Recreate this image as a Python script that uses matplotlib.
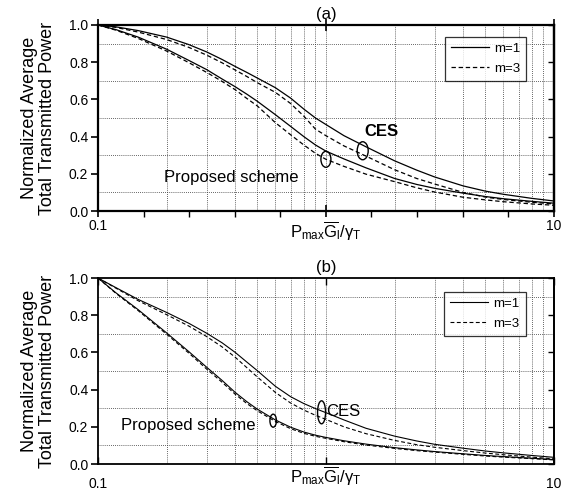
import numpy as np
import matplotlib
matplotlib.use("Agg")
import matplotlib.pyplot as plt
from matplotlib.patches import Ellipse
from matplotlib.transforms import ScaledTranslation

plt.rcParams['font.family'] = ['Liberation Sans', 'DejaVu Sans']
plt.rcParams['mathtext.fontset'] = 'custom'
plt.rcParams['mathtext.rm'] = 'Liberation Sans'
plt.rcParams['mathtext.it'] = 'Liberation Sans'

# x values (log axis) shared by all curves
x = [0.1, 0.12, 0.15, 0.2, 0.25, 0.3, 0.35, 0.4, 0.45, 0.5, 0.6, 0.7, 0.8, 0.9,
     1.0, 1.2, 1.5, 2, 2.5, 3, 4, 5, 6, 8, 10]

# panel (a)
a_ces_m1 = [1.0, 0.99, 0.97, 0.935, 0.895, 0.855, 0.815, 0.777, 0.745, 0.715, 0.663, 0.607, 0.548, 0.50,
            0.465, 0.405, 0.345, 0.27, 0.22, 0.183, 0.135, 0.107, 0.09, 0.068, 0.054]
a_ces_m3 = [1.0, 0.987, 0.962, 0.922, 0.88, 0.838, 0.797, 0.758, 0.723, 0.69, 0.638, 0.578, 0.51, 0.44,
            0.405, 0.35, 0.295, 0.222, 0.175, 0.145, 0.1, 0.075, 0.062, 0.047, 0.038]
a_prop_m1 = [1.0, 0.975, 0.935, 0.87, 0.81, 0.76, 0.71, 0.668, 0.628, 0.59, 0.518, 0.455, 0.40, 0.355,
             0.322, 0.28, 0.232, 0.175, 0.143, 0.122, 0.096, 0.078, 0.066, 0.052, 0.042]
a_prop_m3 = [1.0, 0.972, 0.928, 0.86, 0.798, 0.745, 0.697, 0.652, 0.605, 0.565, 0.475, 0.41, 0.355, 0.31,
             0.278, 0.24, 0.198, 0.158, 0.125, 0.102, 0.074, 0.06, 0.05, 0.038, 0.031]

# panel (b)
b_ces_m1 = [1.0, 0.948, 0.885, 0.815, 0.757, 0.703, 0.652, 0.60, 0.548, 0.502, 0.418, 0.362, 0.325, 0.298,
            0.276, 0.237, 0.192, 0.15, 0.124, 0.106, 0.085, 0.07, 0.06, 0.046, 0.036]
b_ces_m3 = [1.0, 0.945, 0.878, 0.803, 0.742, 0.685, 0.63, 0.574, 0.518, 0.468, 0.385, 0.328, 0.29, 0.262,
            0.24, 0.20, 0.163, 0.127, 0.104, 0.09, 0.072, 0.059, 0.05, 0.037, 0.028]
b_prop_m1 = [1.0, 0.92, 0.83, 0.705, 0.605, 0.52, 0.45, 0.385, 0.335, 0.295, 0.237, 0.198, 0.172, 0.155,
             0.143, 0.125, 0.107, 0.088, 0.076, 0.067, 0.055, 0.046, 0.04, 0.031, 0.024]
b_prop_m3 = [1.0, 0.917, 0.825, 0.698, 0.597, 0.51, 0.44, 0.375, 0.325, 0.286, 0.229, 0.19, 0.165, 0.149,
             0.138, 0.12, 0.102, 0.084, 0.072, 0.064, 0.052, 0.043, 0.037, 0.029, 0.022]

titles = ['(a)', '(b)']
legend_labels = ['m=1', 'm=3']
ylabel = 'Normalized Average\nTotal Transmitted Power'
xlabel = r'$\mathregular{P_{max}\overline{G}_{l}/\gamma_{T}}$'
yticks = [0, 0.2, 0.4, 0.6, 0.8, 1.0]

fig = plt.figure(figsize=(5.67, 5.03), dpi=100)
ax_a = fig.add_axes([0.1728, 0.5805, 0.804, 0.3698])
ax_b = fig.add_axes([0.1728, 0.0775, 0.804, 0.3698])

dash = (0, (3.5, 2.2))


def ellipse(ax, xc, yc, w_px, h_px):
    tr = fig.dpi_scale_trans + ScaledTranslation(xc, yc, ax.transData)
    e = Ellipse((0, 0), w_px / 100, h_px / 100, transform=tr,
                fill=False, edgecolor='k', lw=1.0)
    ax.add_patch(e)


def setup(ax, title, spine_lw, xdir):
    ax.set_xscale('log')
    ax.set_xlim(0.1, 10)
    ax.set_ylim(0, 1.0)
    # dotted grid at the minor positions
    for dec in [0.1, 1]:
        for k in range(2, 11):
            ax.axvline(k * dec, color='0.2', lw=0.6, ls=(0, (1, 1.5)), zorder=0)
    for yv in [0.1, 0.3, 0.5, 0.7, 0.9]:
        ax.axhline(yv, color='0.2', lw=0.6, ls=(0, (1, 1.5)), zorder=0)
    ax.set_xticks([0.1, 1, 10])
    ax.set_xticklabels(['0.1', '', '10'])
    ax.set_yticks(yticks)
    ax.set_yticklabels(['0.0', '0.2', '0.4', '0.6', '0.8', '1.0'])
    ax.set_yticks([0.1, 0.3, 0.5, 0.7, 0.9], minor=True)
    if xdir == 'out':
        ax.set_xticks([10 ** (-1 + 0.2 * k) for k in range(1, 10) if k != 5], minor=True)
        ax.tick_params(axis='x', which='minor', direction='out', length=4, width=1)
        ax.tick_params(axis='x', which='major', direction='inout', length=8, width=1.2,
                       top=True, pad=2)
    else:
        ax.set_xticks([], minor=True)
        ax.tick_params(axis='x', which='major', direction='in', length=5, width=1,
                       top=True, pad=9)
    ax.tick_params(axis='y', which='major', direction='out', length=5, width=1.2,
                   right=False, pad=2)
    ax.tick_params(axis='y', which='minor', length=0)
    ax.tick_params(labelsize=10)
    for s in ax.spines.values():
        s.set_linewidth(spine_lw)
    # inward ticks on the right side
    sec = ax.secondary_yaxis('right')
    sec.set_yticks(yticks)
    sec.tick_params(direction='in', length=4, width=1, labelright=False)
    sec.spines['right'].set_linewidth(spine_lw)
    ax.set_title(title, fontsize=12, pad=4)
    ax.set_ylabel(ylabel, fontsize=13, linespacing=1.05)
    ax.yaxis.set_label_coords(-0.092, 0.5)
    ax.set_xlabel(xlabel, fontsize=12)


def add_legend(ax, handles, anchor):
    leg = ax.legend(handles, legend_labels, loc='upper right', bbox_to_anchor=anchor,
                    fontsize=9.5, frameon=True, fancybox=False, edgecolor='k',
                    handlelength=2.9, handletextpad=0.4, borderpad=0.45,
                    labelspacing=0.6, borderaxespad=0)
    leg.get_frame().set_linewidth(0.9)


# panel (a)
setup(ax_a, titles[0], 1.6, 'out')
ax_a.xaxis.set_label_coords(0.5, -0.045)
l1, = ax_a.plot(x, a_ces_m1, color='k', lw=0.9)
l2, = ax_a.plot(x, a_ces_m3, color='k', lw=0.9, ls=dash)
ax_a.plot(x, a_prop_m1, color='k', lw=0.9)
ax_a.plot(x, a_prop_m3, color='k', lw=0.9, ls=dash)
ellipse(ax_a, 1.45, 0.324, 11, 18)
ellipse(ax_a, 1.0, 0.278, 10, 16)
ax_a.text(1.75, 0.43, 'CES', fontsize=12, fontweight='bold', ha='center', va='center')
ax_a.text(0.195, 0.18, 'Proposed scheme', fontsize=12, ha='left', va='center')
add_legend(ax_a, [l1, l2], (0.94, 0.937))

# panel (b)
setup(ax_b, titles[1], 1.3, 'in')
ax_b.xaxis.set_label_coords(0.5, -0.005)
m1, = ax_b.plot(x, b_ces_m1, color='k', lw=0.8)
m2, = ax_b.plot(x, b_ces_m3, color='k', lw=0.8, ls=dash)
ax_b.plot(x, b_prop_m1, color='k', lw=0.8)
ax_b.plot(x, b_prop_m3, color='k', lw=0.8, ls=dash)
ellipse(ax_b, 0.957, 0.278, 8, 23)
ellipse(ax_b, 0.587, 0.233, 6.5, 13)
ax_b.text(1.0, 0.285, 'CES', fontsize=12, ha='left', va='center')
ax_b.text(0.126, 0.205, 'Proposed scheme', fontsize=12, ha='left', va='center')
add_legend(ax_b, [m1, m2], (0.938, 0.926))

fig.savefig('out.png', dpi=100)
